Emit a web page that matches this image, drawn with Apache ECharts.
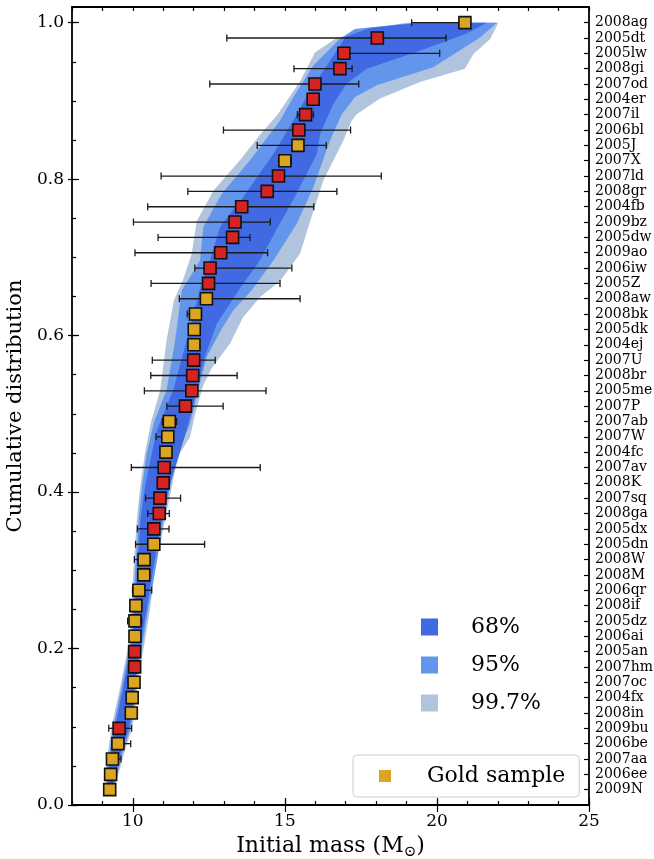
<!DOCTYPE html>
<html><head><meta charset="utf-8">
<script src="https://cdn.jsdelivr.net/npm/echarts@6/dist/echarts.min.js"></script>
<style>html,body{margin:0;padding:0;background:#fff}#c{width:654px;height:859px}</style>
</head><body><div id="c"></div>
<script>
const names = ['2008ag','2005dt','2005lw','2008gi','2007od','2004er','2007il','2006bl','2005J','2007X','2007ld','2008gr','2004fb','2009bz','2005dw','2009ao','2006iw','2005Z','2008aw','2008bk','2005dk','2004ej','2007U','2008br','2005me','2007P','2007ab','2007W','2004fc','2007av','2008K','2007sq','2008ga','2005dx','2005dn','2008W','2008M','2006qr','2008if','2005dz','2006ai','2005an','2007hm','2007oc','2004fx','2008in','2009bu','2006be','2007aa','2006ee','2009N'];
const cdf = [1.0000,0.9804,0.9608,0.9412,0.9216,0.9020,0.8824,0.8627,0.8431,0.8235,0.8039,0.7843,0.7647,0.7451,0.7255,0.7059,0.6863,0.6667,0.6471,0.6275,0.6078,0.5882,0.5686,0.5490,0.5294,0.5098,0.4902,0.4706,0.4510,0.4314,0.4118,0.3922,0.3725,0.3529,0.3333,0.3137,0.2941,0.2745,0.2549,0.2353,0.2157,0.1961,0.1765,0.1569,0.1373,0.1176,0.0980,0.0784,0.0588,0.0392,0.0196];
const mass = [20.92,18.04,16.94,16.81,15.99,15.93,15.68,15.46,15.43,15.00,14.79,14.42,13.58,13.36,13.28,12.89,12.54,12.49,12.42,12.06,12.02,12.01,12.00,11.97,11.94,11.73,11.20,11.15,11.09,11.03,11.00,10.89,10.87,10.69,10.69,10.37,10.36,10.20,10.10,10.07,10.07,10.06,10.06,10.04,9.98,9.95,9.55,9.51,9.33,9.27,9.24];
const errLow = [19.17,13.09,16.75,15.30,12.53,null,15.41,12.98,14.09,14.82,10.93,11.81,10.49,10.02,10.83,10.07,12.04,10.60,11.53,11.79,null,null,10.64,10.59,10.38,11.12,10.97,10.76,11.09,9.95,null,10.42,10.49,10.15,10.09,10.05,null,9.99,null,9.83,null,null,null,null,null,null,9.21,9.31,9.16,null,null];
const errHigh = [20.92,20.30,20.09,17.21,17.43,null,15.94,17.16,16.36,15.21,18.17,16.71,15.95,14.52,13.85,14.43,15.23,14.84,15.50,12.06,null,null,12.71,13.43,14.38,12.97,11.44,11.32,11.28,14.19,null,11.57,11.20,11.19,12.36,10.37,null,10.62,null,10.29,null,null,null,null,null,null,9.96,9.93,9.61,null,null];
const gold = [1,0,0,0,0,0,0,0,1,1,0,0,0,0,0,0,0,0,1,1,1,1,0,0,0,0,1,1,1,0,0,0,0,0,1,1,1,1,1,1,1,0,0,1,1,1,0,1,1,1,1];

const band997 = [[9.10,0.017],[9.12,0.05],[9.30,0.10],[9.58,0.15],[9.88,0.21],[10.02,0.30],[10.13,0.364],[10.24,0.406],[10.40,0.45],[10.60,0.49],[10.90,0.53],[11.11,0.594],[11.35,0.645],[11.65,0.671],[11.94,0.705],[12.10,0.746],[12.65,0.785],[13.52,0.824],[14.25,0.86],[14.75,0.882],[15.06,0.900],[15.50,0.925],[15.99,0.962],[16.65,0.979],[17.69,0.992],[19.0,1.0],
  [22.02,1.0],[21.75,0.979],[21.2,0.960],[20.92,0.941],[19.44,0.924],[18.13,0.903],[17.36,0.883],[17.2,0.875],[16.92,0.849],[16.26,0.798],[15.83,0.746],[15.5,0.705],[14.85,0.670],[14.18,0.649],[13.62,0.623],[13.2,0.59],[12.6,0.559],[12.31,0.536],[12.05,0.50],[11.88,0.470],[11.55,0.450],[11.39,0.428],[11.28,0.406],[11.06,0.364],[10.84,0.322],[10.73,0.300],[10.56,0.249],[10.40,0.211],[10.17,0.16],[10.07,0.119],[9.96,0.096],[9.74,0.07],[9.41,0.023],[9.25,0.017]];
const band95 = [[9.14,0.018],[9.17,0.05],[9.36,0.10],[9.63,0.15],[9.93,0.21],[10.08,0.30],[10.19,0.364],[10.30,0.406],[10.46,0.45],[10.70,0.49],[11.11,0.53],[11.39,0.594],[11.61,0.658],[12.21,0.696],[12.32,0.739],[12.92,0.781],[13.85,0.824],[14.84,0.875],[15.28,0.905],[15.93,0.945],[16.8,0.979],[17.3,0.992],[19.3,1.0],
  [21.97,1.0],[21.42,0.981],[19.88,0.943],[18.02,0.920],[17.31,0.905],[16.87,0.883],[16.48,0.849],[15.94,0.790],[15.39,0.743],[14.62,0.696],[13.91,0.658],[13.3,0.632],[12.9,0.607],[12.43,0.573],[12.15,0.530],[11.88,0.487],[11.5,0.453],[11.33,0.428],[11.22,0.406],[11.0,0.364],[10.78,0.309],[10.5,0.249],[10.34,0.211],[10.12,0.16],[10.02,0.119],[9.91,0.096],[9.69,0.07],[9.37,0.023],[9.22,0.018]];
const band68 = [[9.18,0.02],[9.22,0.05],[9.42,0.10],[9.68,0.15],[9.98,0.21],[10.15,0.30],[10.25,0.364],[10.40,0.406],[10.6,0.445],[10.8,0.48],[11.33,0.53],[11.77,0.594],[12.2,0.658],[12.54,0.696],[12.87,0.739],[13.63,0.777],[14.62,0.832],[15.28,0.875],[15.83,0.913],[16.48,0.951],[17.0,0.982],[17.8,0.993],[19.44,1.0],
  [21.64,1.0],[20.98,0.986],[19.44,0.964],[17.69,0.941],[17.03,0.922],[16.59,0.896],[16.16,0.858],[16.05,0.832],[15.28,0.774],[14.73,0.736],[14.18,0.696],[13.55,0.662],[12.76,0.615],[12.37,0.573],[12.1,0.530],[11.77,0.479],[11.5,0.445],[11.2,0.407],[10.95,0.364],[10.7,0.309],[10.45,0.249],[10.28,0.211],[10.08,0.16],[9.98,0.119],[9.86,0.096],[9.62,0.07],[9.33,0.023],[9.2,0.02]];

const xMajorTicks = [10,15,20,25];
const yMajorTicks = [0,0.2,0.4,0.6,0.8,1.0];

const FONT = 'DejaVu Serif';
const chart = echarts.init(document.getElementById('c'), null, {renderer:'canvas'});

function bandSeries(name, pts, color, z){
  return {type:'custom', name, xAxisIndex:0, yAxisIndex:0, z, data:[0], silent:true,
    itemStyle:{color}, legendIcon:'rect',
    renderItem:(params, api)=>({type:'polygon', shape:{points: pts.map(p=>api.coord(p))}, style:{fill:color}})};
}
const errData = [];
for (let i=0;i<names.length;i++){ if (errLow[i]!==null) errData.push([errLow[i], errHigh[i], cdf[i]]); }
const goldData=[], redData=[];
for (let i=0;i<names.length;i++){ (gold[i]?goldData:redData).push([mass[i], cdf[i]]); }

const axCommon = {min:8, max:25, splitLine:{show:false}};
const tickStyle = {color:'#000', width:1.2};
const option = {
  animation:false,
  grid:{left:72, right:65, top:7, bottom:54, outerBoundsMode:'none', containLabel:false},
  xAxis:[
    Object.assign({type:'value', interval:1, position:'bottom',
      axisLine:{show:true, onZero:false, lineStyle:{color:'#000', width:1.8}},
      axisTick:{inside:true, length:4, lineStyle:tickStyle},
      axisLabel:{formatter:v=> (v%5===0 ? String(v) : ''), fontSize:17, color:'#000', fontFamily:FONT, margin:8},
      name:'Initial mass (M{s|⊙})', nameLocation:'middle', nameGap:27,
      nameTextStyle:{fontFamily:FONT, fontSize:22, color:'#000', rich:{s:{fontFamily:FONT, fontSize:15, color:'#000', padding:[12,0,0,0]}}}
    }, axCommon),
    Object.assign({type:'value', position:'bottom', axisLine:{show:false}, axisTick:{inside:true, length:7, customValues:xMajorTicks, lineStyle:tickStyle}, axisLabel:{show:false}}, axCommon),
    Object.assign({type:'value', interval:1, position:'top', axisLine:{show:true, onZero:false, lineStyle:{color:'#000', width:1.8}}, axisTick:{inside:true, length:4, lineStyle:tickStyle}, axisLabel:{show:false}}, axCommon),
    Object.assign({type:'value', position:'top', axisLine:{show:false}, axisTick:{inside:true, length:7, customValues:xMajorTicks, lineStyle:tickStyle}, axisLabel:{show:false}}, axCommon)
  ],
  yAxis:[
    {type:'value', min:0, max:1.02, interval:0.05, position:'left', splitLine:{show:false},
      axisLine:{show:true, onZero:false, lineStyle:{color:'#000', width:1.8}},
      axisTick:{inside:true, length:4, lineStyle:tickStyle},
      axisLabel:{formatter:v=> (Math.abs(v*5-Math.round(v*5))<1e-6 ? v.toFixed(1) : ''), showMaxLabel:false, fontSize:17, color:'#000', fontFamily:FONT, margin:8},
      name:'Cumulative distribution', nameLocation:'middle', nameGap:42, nameRotate:90,
      nameTextStyle:{fontFamily:FONT, fontSize:21, color:'#000'}},
    {type:'value', min:0, max:1.02, position:'left', splitLine:{show:false}, axisLine:{show:false},
      axisTick:{inside:true, length:7, customValues:yMajorTicks, lineStyle:tickStyle}, axisLabel:{show:false}},
    {type:'value', min:0, max:1.02, position:'left', splitLine:{show:false}, axisLine:{show:false},
      axisTick:{inside:false, length:4, customValues:yMajorTicks, lineStyle:tickStyle}, axisLabel:{show:false}},
    {type:'value', min:0, max:1.02, position:'right', splitLine:{show:false},
      axisLine:{show:true, onZero:false, lineStyle:{color:'#000', width:1.8}},
      axisTick:{inside:true, length:5, customValues:cdf, lineStyle:tickStyle},
      axisLabel:{customValues:cdf, fontSize:14, color:'#000', fontFamily:FONT, margin:6,
        formatter:v=>{ let bi=0, bd=1e9; for(let i=0;i<cdf.length;i++){const d=Math.abs(cdf[i]-v); if(d<bd){bd=d;bi=i;}} return names[bi]; }}}
  ],
  legend:[
    {data:['68%','95%','99.7%'], orient:'vertical', left:421, top:616, padding:0, itemWidth:17, itemHeight:17, itemGap:16,
      icon:'rect', selectedMode:false, textStyle:{fontFamily:FONT, fontSize:22, color:'#000', lineHeight:17, padding:[0,0,0,28]}},
    {data:['Gold sample'], left:353, top:755, padding:[8,14,8,26], itemWidth:12, itemHeight:12, icon:'rect',
      itemStyle:{borderWidth:0}, selectedMode:false, borderColor:'#cccccc', borderWidth:1, borderRadius:4, backgroundColor:'rgba(255,255,255,0.8)',
      textStyle:{fontFamily:FONT, fontSize:22, color:'#000', lineHeight:26, padding:[0,0,0,31]}}
  ],
  series:[
    bandSeries('99.7%', band997, '#B0C4DE', 1),
    bandSeries('95%', band95, '#6495ED', 2),
    bandSeries('68%', band68, '#4169E1', 3),
    {type:'custom', name:'err', z:4, silent:true, data:errData, encode:{x:[0,1], y:2},
      renderItem:(params, api)=>{
        const y = api.value(2);
        const lo = api.coord([api.value(0), y]);
        const hi = api.coord([api.value(1), y]);
        const cap = 3.5, st = {stroke:'#1a1a1a', lineWidth:1.3};
        return {type:'group', children:[
          {type:'line', shape:{x1:lo[0],y1:lo[1],x2:hi[0],y2:hi[1]}, style:st},
          {type:'line', shape:{x1:lo[0],y1:lo[1]-cap,x2:lo[0],y2:lo[1]+cap}, style:st},
          {type:'line', shape:{x1:hi[0],y1:hi[1]-cap,x2:hi[0],y2:hi[1]+cap}, style:st}
        ]};
      }},
    {type:'scatter', name:'red', z:5, symbol:'rect', symbolSize:12, data:redData, silent:true,
      itemStyle:{color:'#D62424', borderColor:'#111', borderWidth:1.6, opacity:1}},
    {type:'scatter', name:'Gold sample', z:5, symbol:'rect', symbolSize:12, data:goldData, silent:true,
      itemStyle:{color:'#DAA520', borderColor:'#111', borderWidth:1.6, opacity:1}}
  ]
};
chart.setOption(option);
</script>
</body></html>
